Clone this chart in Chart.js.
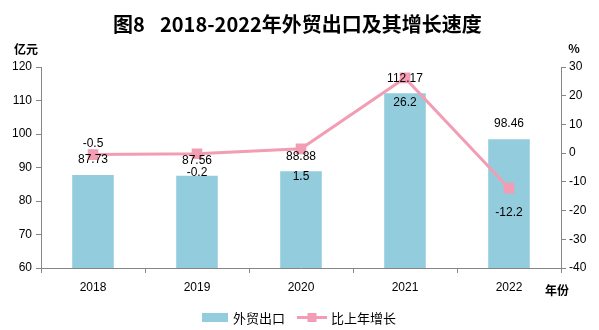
<!DOCTYPE html>
<html>
<head>
<meta charset="utf-8">
<script src="https://cdn.jsdelivr.net/npm/chart.js@4.4.1/dist/chart.umd.min.js"></script>
<style>
  html, body { margin: 0; padding: 0; background: #fff; }
  #wrap { width: 599px; height: 330px; position: relative; }
</style>
</head>
<body>
<div id="wrap"><canvas id="chart"></canvas></div>
<script>
const years = ['2018', '2019', '2020', '2021', '2022'];
const exportValues = [87.73, 87.56, 88.88, 112.17, 98.46];
const growthRates = [-0.5, -0.2, 1.5, 26.2, -12.2];
const leftAxis = { min: 60, max: 120, step: 10 };
const rightAxis = { min: -40, max: 30, step: 10 };

const BAR_COLOR = '#93CDDD';
const LINE_COLOR = '#F29DB3';
const AXIS_COLOR = '#868686';
const NUM_FONT = '"Liberation Sans", Arial, sans-serif';
const CJK_FONT = '"Noto Sans CJK SC", sans-serif';

// label offsets (px) relative to the growth point
const growthLabelDy = [-11, 19, 28, 25, 25];

const decorations = {
    id: 'decorations',
    afterDatasetsDraw(chart) {
        const ctx = chart.ctx;
        ctx.save();
        ctx.fillStyle = '#000';
        ctx.textAlign = 'center';
        ctx.textBaseline = 'middle';
        ctx.font = '12px ' + NUM_FONT;
        chart.getDatasetMeta(0).data.forEach((bar, i) => {
            ctx.fillText(exportValues[i].toFixed(2), bar.x, bar.y - 15);
        });
        chart.getDatasetMeta(1).data.forEach((pt, i) => {
            ctx.fillText(String(growthRates[i]), pt.x, pt.y + growthLabelDy[i]);
        });

        // title
        ctx.font = 'bold 20px ' + CJK_FONT;
        ctx.textAlign = 'left';
        ctx.fillText('图8', 113, 24);
        ctx.fillText('2018-2022年外贸出口及其增长速度', 160, 24);
        ctx.textAlign = 'center';

        // unit labels
        ctx.font = 'bold 12px ' + CJK_FONT;
        ctx.fillText('亿元', 26, 49);
        ctx.fillText('%', 574, 48);
        ctx.fillText('年份', 557, 290);

        // legend
        ctx.fillStyle = BAR_COLOR;
        ctx.fillRect(202, 313, 26, 9);
        ctx.strokeStyle = LINE_COLOR;
        ctx.lineWidth = 3;
        ctx.beginPath();
        ctx.moveTo(297, 317.5);
        ctx.lineTo(327, 317.5);
        ctx.stroke();
        ctx.fillStyle = LINE_COLOR;
        ctx.fillRect(307.5, 313, 9, 9);
        ctx.fillStyle = '#000';
        ctx.textAlign = 'left';
        ctx.font = '13px ' + CJK_FONT;
        ctx.fillText('外贸出口', 233, 318);
        ctx.fillText('比上年增长', 331, 318);
        ctx.restore();
    }
};

const tickFont = { family: NUM_FONT, size: 12 };

new Chart(document.getElementById('chart'), {
    type: 'bar',
    data: {
        labels: years,
        datasets: [{
            type: 'bar',
            label: '外贸出口',
            data: exportValues,
            backgroundColor: BAR_COLOR,
            barPercentage: 0.4,
            categoryPercentage: 1,
            yAxisID: 'y',
            order: 2
        }, {
            type: 'line',
            label: '比上年增长',
            data: growthRates,
            borderColor: LINE_COLOR,
            backgroundColor: LINE_COLOR,
            borderWidth: 3,
            pointStyle: 'rect',
            pointRadius: 7.5,
            pointBorderWidth: 0,
            tension: 0,
            yAxisID: 'y1',
            order: 1
        }]
    },
    options: {
        responsive: true,
        maintainAspectRatio: false,
        animation: false,
        layout: { padding: { top: 67, bottom: 32, left: 0, right: 0 } },
        plugins: {
            legend: { display: false },
            tooltip: { enabled: false }
        },
        scales: {
            x: {
                offset: true,
                grid: { display: true, drawOnChartArea: false, offset: true, tickLength: 5, color: AXIS_COLOR },
                border: { color: AXIS_COLOR },
                ticks: { color: '#000', font: tickFont, padding: 7 },
                afterFit(s) { s.height = 30; }
            },
            y: {
                position: 'left',
                min: leftAxis.min,
                max: leftAxis.max,
                grid: { drawOnChartArea: false, tickLength: 5, color: AXIS_COLOR },
                border: { color: AXIS_COLOR },
                ticks: { stepSize: leftAxis.step, color: '#000', font: tickFont, padding: 4 },
                afterFit(s) { s.width = 41; }
            },
            y1: {
                position: 'right',
                min: rightAxis.min,
                max: rightAxis.max,
                grid: { drawOnChartArea: false, tickLength: 5, color: AXIS_COLOR },
                border: { color: AXIS_COLOR },
                ticks: { stepSize: rightAxis.step, color: '#000', font: tickFont, padding: 3 },
                afterFit(s) { s.width = 38; }
            }
        }
    },
    plugins: [decorations]
});
</script>
</body>
</html>
